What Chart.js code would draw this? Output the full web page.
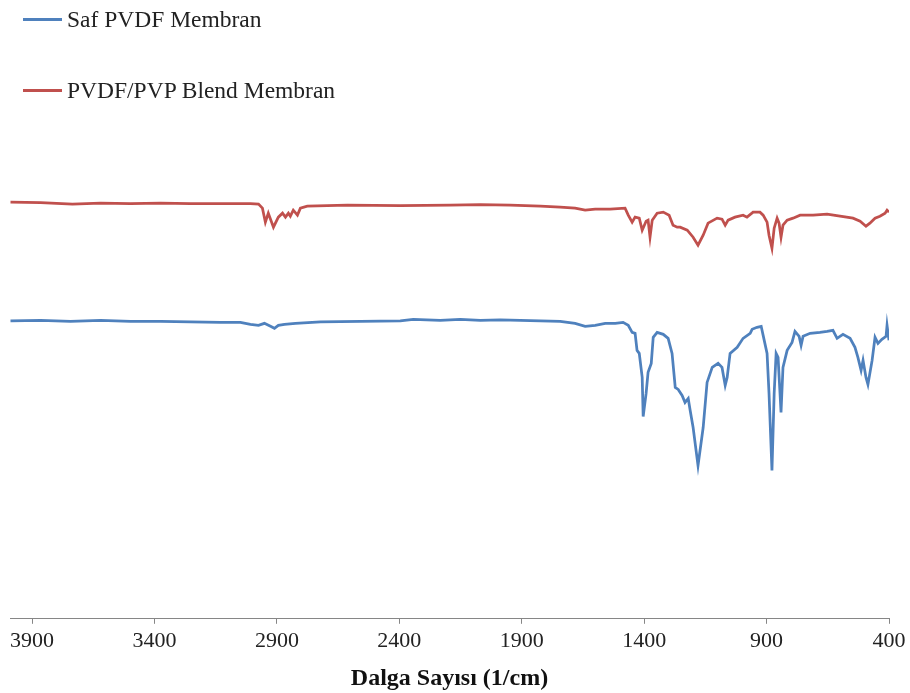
<!DOCTYPE html>
<html>
<head>
<meta charset="utf-8">
<script src="https://cdn.jsdelivr.net/npm/chart.js@4/dist/chart.umd.min.js"></script>
<style>
body{margin:0;background:#fff;font-family:"Liberation Serif",serif;}
#wrap{position:relative;width:910px;height:693px;}
.leg{position:absolute;left:23px;font-size:23.5px;color:#222;line-height:26px;}
.leg span{display:inline-block;width:39px;height:3px;vertical-align:middle;margin-right:5px;position:relative;top:-2px;}
</style>
</head>
<body>
<div id="wrap">
<canvas id="ftirChart" width="910" height="693"></canvas>
<div class="leg" style="top:6px"><span style="background:#4F81BD"></span>Saf PVDF Membran</div>
<div class="leg" style="top:77px"><span style="background:#C0504D"></span>PVDF/PVP Blend Membran</div>
</div>
<script>
//dalga sayilari ve gecirgenlik (%T) degerleri
var safWave = [3988,3865,3743,3620,3498,3375,3253,3131,3049,3008,2975,2951,2926,2910,2894,2869,2824,2722,2559,2396,2343,2233,2151,2069,1988,1906,1824,1743,1682,1641,1600,1559,1518,1486,1465,1449,1437,1429,1420,1408,1404,1392,1384,1371,1363,1347,1322,1302,1286,1273,1261,1245,1233,1220,1212,1200,1180,1159,1143,1122,1098,1082,1069,1061,1049,1020,996,967,959,939,922,914,898,890,878,869,861,853,841,833,816,796,784,767,759,751,722,682,653,629,612,588,559,539,527,514,506,494,486,469,457,445,429,412,408,400];
var safT = [59.5,59.6,59.4,59.6,59.4,59.4,59.3,59.2,59.2,58.8,58.6,59.0,58.4,58.0,58.6,58.8,59.0,59.3,59.4,59.5,59.8,59.6,59.8,59.6,59.7,59.6,59.5,59.4,59.0,58.4,58.6,59.0,59.0,59.2,58.6,57.2,57.0,53.6,53.0,48.2,40.4,45.0,49.2,51.0,56.2,57.2,56.8,56.0,53.0,46.2,45.8,44.6,43.2,44.0,41.6,38.2,30.6,38.2,47.2,50.2,51.0,50.2,46.6,48.2,53.0,54.2,56.0,57.0,57.8,58.2,58.4,56.6,53.0,45.0,29.6,45.0,53.0,52.2,41.2,50.2,53.6,55.2,57.4,56.4,54.6,56.4,57.0,57.2,57.4,57.6,56.0,56.8,56.0,54.2,52.2,49.6,51.6,48.2,46.8,51.6,56.2,55.0,55.8,56.4,58.6,55.6];
var blendWave = [3988,3865,3735,3620,3498,3375,3253,3131,3008,2975,2959,2947,2935,2914,2894,2877,2865,2853,2845,2833,2816,2804,2776,2612,2396,2192,2069,1947,1824,1743,1682,1641,1600,1539,1478,1465,1449,1437,1420,1408,1392,1384,1376,1367,1347,1322,1298,1282,1265,1253,1224,1200,1180,1159,1139,1102,1082,1069,1057,1029,996,980,955,927,914,898,890,878,869,857,849,841,833,816,792,763,710,653,600,547,518,494,478,457,437,416,408,400];
var blendT = [83.2,83.1,82.8,83.0,82.9,83.0,82.9,82.9,82.9,82.8,82.0,79.2,81.0,78.2,80.2,81.0,80.2,81.0,80.4,81.6,80.6,82.0,82.4,82.6,82.5,82.6,82.7,82.6,82.4,82.2,82.0,81.6,81.8,81.8,82.0,80.6,79.2,80.2,80.0,77.6,79.4,79.6,76.2,79.6,81.0,81.2,80.6,78.6,78.2,78.2,77.6,76.2,74.6,76.6,79.0,80.0,79.8,78.6,79.6,80.2,80.6,80.2,81.2,81.2,80.6,79.2,76.6,74.0,78.0,80.0,79.0,76.2,78.6,79.6,80.0,80.6,80.6,80.8,80.4,80.0,79.4,78.4,79.0,80.0,80.4,81.0,81.6,81.2];
var xTicks = [3900,3400,2900,2400,1900,1400,900,400];

function toPoints(w, t){
	var pts = [];
	for(var i=0;i<w.length;i++){
		pts.push({x:w[i], y:t[i]});
	}
	return pts;
}

var ctx = document.getElementById("ftirChart").getContext("2d");
var chart = new Chart(ctx,{
	type:"line",
	data:{
		datasets:[
			{label:"Saf PVDF Membran", data:toPoints(safWave,safT), borderColor:"#4F81BD", borderWidth:2.75, pointRadius:0, tension:0},
			{label:"PVDF/PVP Blend Membran", data:toPoints(blendWave,blendT), borderColor:"#C0504D", borderWidth:2.75, pointRadius:0, tension:0}
		]
	},
	options:{
		responsive:false,
		animation:false,
		layout:{padding:{left:10,right:21,top:118,bottom:0}},
		plugins:{legend:{display:false}, tooltip:{enabled:false}},
		scales:{
			x:{
				type:"linear",
				reverse:true,
				min:400,
				max:3990,
				afterBuildTicks:function(axis){
					axis.ticks = xTicks.map(function(v){return {value:v};});
				},
				grid:{display:true, drawOnChartArea:false, tickLength:5, color:"#868686"},
				border:{color:"#868686", width:1},
				ticks:{color:"#222", font:{family:"Liberation Serif", size:22}, maxRotation:0, autoSkip:false, padding:4,
					callback:function(v){return String(v);}},
				title:{display:true, text:"Dalga Sayısı (1/cm)", color:"#111", font:{family:"Liberation Serif", size:24, weight:"bold"}, padding:{top:6,bottom:0}}
			},
			y:{display:false, min:0, max:100}
		}
	}
});
</script>
</body>
</html>
